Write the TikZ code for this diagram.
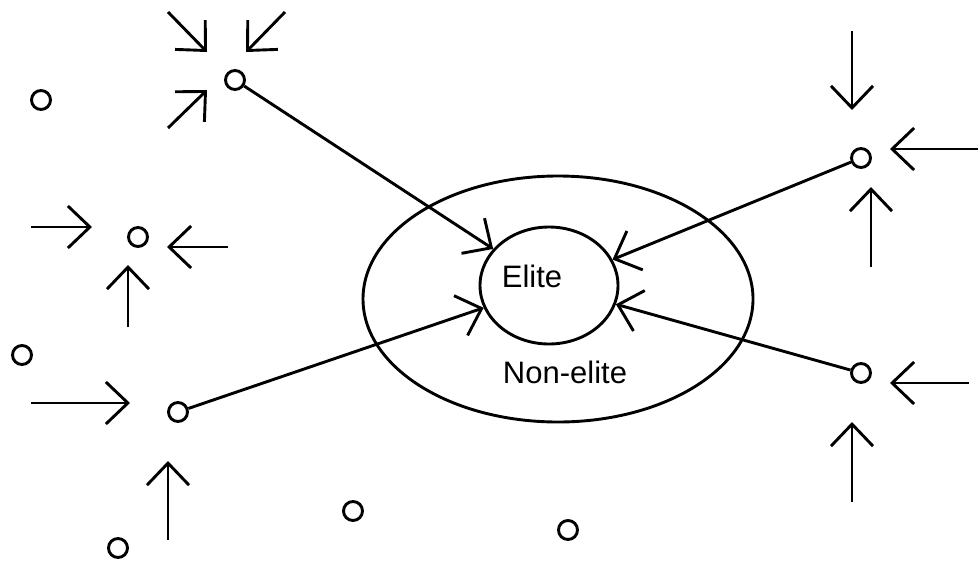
\documentclass[tikz,border=0pt]{standalone}
\usepackage{fontspec}
\setmainfont{Liberation Sans}
\usetikzlibrary{arrows.meta, shapes.geometric}
\tikzset{
    member/.style={circle, draw, line width=2.9pt, minimum size=19pt, inner sep=0pt},
    ring/.style={ellipse, draw, line width=2.9pt, inner sep=0pt},
    inarrow/.style={line width=2.9pt, -{Straight Barb[length=22pt, width=42pt]}},
    groupname/.style={anchor=base, inner sep=0pt, font=\fontsize{31}{37}\selectfont}
}

\begin{document}
\begin{tikzpicture}[x=1pt, y=-1pt]
    \useasboundingbox (0,0) rectangle (979,560);

    % the two groups
    \node[ring, minimum width=390pt, minimum height=246pt] (nonelite) at (558,299) {};
    \node[ring, minimum width=138pt, minimum height=117pt] (elite) at (549,285.5) {};
    \node[groupname] (elitetext) at (532,287) {Elite};
    \node[groupname] (nonelitetext) at (565,383) {Non-elite};

    % individuals
    \node[member] (m1) at (235,80) {};
    \node[member] (m2) at (41,100) {};
    \node[member] (m3) at (138,237) {};
    \node[member] (m4) at (22,355) {};
    \node[member] (m5) at (178,412) {};
    \node[member] (m6) at (118,548) {};
    \node[member] (m7) at (353,511) {};
    \node[member] (m8) at (568,530) {};
    \node[member] (m9) at (861,158) {};
    \node[member] (m10) at (861,373) {};

    % recruitment into the elite
    \draw[inarrow] (m1) -- (elite);
    \draw[inarrow] (m9) -- (elite);
    \draw[inarrow] (m5) -- (elite);
    \draw[inarrow] (m10) -- (elite);

    % pressures on individuals
    \foreach \n/\xa/\ya/\xb/\yb in {a1/168/12/207/52, a2/285/12/246/52, a3/168/128/207/90,
                                    b1/31/227/92/227, b2/228/247/167/247, b3/128/327/128/265,
                                    c1/31/403/130/403, c2/168/540/168/461,
                                    d1/852/31/852/110, d2/978/149/890/149, d3/871/267/871/187,
                                    e1/969/383/890/383, e2/852/502/852/422}
    {
        \coordinate (\n-start) at (\xa,\ya);
        \coordinate (\n-end) at (\xb,\yb);
        \draw[inarrow] (\n-start) -- (\n-end);
    }
\end{tikzpicture}
\end{document}
